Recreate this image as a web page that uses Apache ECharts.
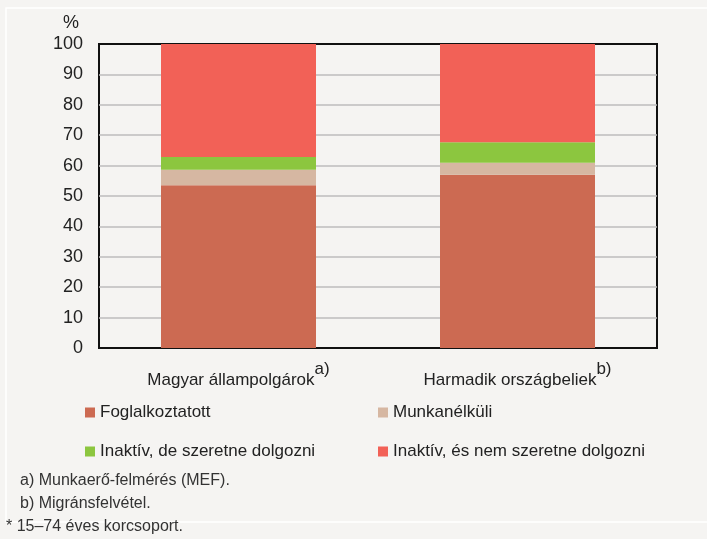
<!DOCTYPE html>
<html>
<head>
<meta charset="utf-8">
<script src="https://cdn.jsdelivr.net/npm/echarts@6/dist/echarts.min.js"></script>
<style>
  html, body { margin: 0; padding: 0; background: #f5f4f2; }
  #myChart { width: 707px; height: 539px; }
</style>
</head>
<body>
<div id="myChart"></div>
<script>
// kategóriák és értékek (%)
var categories = ['Magyar állampolgárok', 'Harmadik országbeliek']
var catMarks = ['a)', 'b)']
var foglalkoztatott = [53.5, 57.0]
var munkanelkuli = [5.1, 3.9]
var inaktivDe = [4.2, 6.8]
var inaktivNem = [37.2, 32.3]
var seriesNames = ['Foglalkoztatott', 'Munkanélküli', 'Inaktív, de szeretne dolgozni', 'Inaktív, és nem szeretne dolgozni']
var colors = ['#cc6a52', '#d6b7a2', '#8cc63f', '#f26157']
var footnotes = ['a) Munkaerő-felmérés (MEF).', 'b) Migránsfelvétel.', '* 15–74 éves korcsoport.']

var font = '"Liberation Sans Narrow", "Arial Narrow", "Liberation Sans", sans-serif'
var myChart = echarts.init(document.getElementById('myChart'))

var values = [foglalkoztatott, munkanelkuli, inaktivDe, inaktivNem]
var series = seriesNames.map(function (name, i) {
  return {
    name: name,
    type: 'bar',
    stack: 'total',
    barWidth: 155,
    itemStyle: { color: colors[i] },
    data: values[i]
  }
})

var legendPos = [[80, 399], [373, 399], [80, 438], [373, 438]]
var legends = seriesNames.map(function (name, i) {
  return {
    data: [name],
    left: legendPos[i][0],
    top: legendPos[i][1],
    icon: 'rect',
    itemWidth: 10,
    itemHeight: 10,
    itemGap: 4,
    textStyle: { color: '#222', fontSize: 17, fontFamily: font },
    selectedMode: false
  }
})

// rácsvonalak: 0 és 100 helyén a keret látszik
var gridColors = []
for (var k = 0; k <= 10; k++) {
  gridColors.push(k === 0 || k === 10 ? 'rgba(0,0,0,0)' : '#bdbdbd')
}

var option = {
  backgroundColor: '#f5f4f2',
  animation: false,
  grid: {
    left: 99,
    right: 50,
    top: 44,
    bottom: 191,
    show: true,
    borderColor: '#111',
    borderWidth: 2,
    backgroundColor: 'transparent'
  },
  legend: legends,
  xAxis: {
    type: 'category',
    data: categories,
    axisTick: { show: false },
    axisLine: { show: false },
    axisLabel: {
      interval: 0,
      margin: 13,
      fontSize: 17,
      fontFamily: font,
      color: '#222',
      formatter: function (v, idx) {
        return v + '{sup|' + catMarks[idx] + '}'
      },
      rich: {
        sup: { fontSize: 17, fontFamily: font, color: '#222', verticalAlign: 'bottom', padding: [0, 0, 22, 0] }
      }
    }
  },
  yAxis: {
    type: 'value',
    min: 0,
    max: 100,
    interval: 10,
    name: '%',
    nameLocation: 'end',
    nameGap: 12,
    nameTextStyle: { fontSize: 18, fontFamily: font, color: '#222', align: 'right', padding: [0, 20, 0, 0] },
    axisLine: { show: false },
    axisTick: { show: false },
    axisLabel: { fontSize: 18, fontFamily: font, color: '#222', margin: 16 },
    splitLine: { lineStyle: { color: gridColors, width: 1.5 } }
  },
  graphic: [
    {
      type: 'rect',
      shape: { x: 6, y: 8, width: 710, height: 514 },
      style: { fill: 'none', stroke: '#ffffff', lineWidth: 1.5 },
      z: -1
    },
    { type: 'text', left: 20, top: 473, style: { text: footnotes[0], fontSize: 16, fontFamily: font, fill: '#333' } },
    { type: 'text', left: 20, top: 496, style: { text: footnotes[1], fontSize: 16, fontFamily: font, fill: '#333' } },
    { type: 'text', left: 6, top: 519, style: { text: footnotes[2], fontSize: 16, fontFamily: font, fill: '#333' } }
  ],
  series: series
}
myChart.setOption(option)
</script>
</body>
</html>
